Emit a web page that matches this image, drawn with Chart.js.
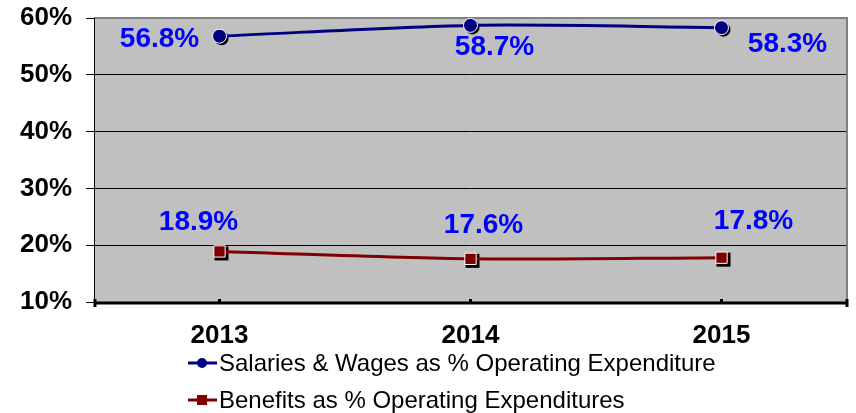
<!DOCTYPE html>
<html>
<head>
<meta charset="UTF-8">
<title>Salaries and Benefits</title>
<script src="https://cdn.jsdelivr.net/npm/chart.js"></script>
<style>
  html, body { margin: 0; padding: 0; background: #fff; }
  #wrap { width: 856px; height: 413px; }
</style>
</head>
<body>
<div id="wrap"><canvas id="chart" width="856" height="413"></canvas></div>
<script>
// data
const years = ['2013', '2014', '2015'];
const salaries = [56.8, 58.7, 58.3];
const benefits = [18.9, 17.6, 17.8];
const yTicks = [10, 20, 30, 40, 50, 60];
const seriesNames = ['Salaries & Wages as % Operating Expenditure', 'Benefits as % Operating Expenditures'];

const FONT = '"Liberation Sans", Arial, sans-serif';

// where each value label sits relative to its point
const labelOffsets = [
  [[-60, 3], [24, 22], [66, 17]],
  [[-21, -29], [13, -34], [32, -36]]
];

const plotBox = {
  id: 'plotBox',
  beforeDraw(chart) {
    const { ctx, chartArea: a } = chart;
    ctx.save();
    ctx.fillStyle = '#c0c0c0';
    ctx.fillRect(a.left, a.top, a.right - a.left, a.bottom - a.top);
    ctx.restore();
  },
  beforeDatasetsDraw(chart) {
    const { ctx, chartArea: a } = chart;
    ctx.save();
    // gray top / right frame
    ctx.strokeStyle = '#808080';
    ctx.lineWidth = 2;
    ctx.beginPath();
    ctx.moveTo(a.left, a.top);
    ctx.lineTo(a.right, a.top);
    ctx.lineTo(a.right, a.bottom);
    ctx.stroke();
    // left axis line
    ctx.strokeStyle = '#000';
    ctx.lineWidth = 1;
    ctx.beginPath();
    ctx.moveTo(a.left + 0.5, a.top);
    ctx.lineTo(a.left + 0.5, a.bottom);
    ctx.stroke();
    // thick x axis with ticks
    ctx.lineWidth = 3;
    ctx.beginPath();
    ctx.moveTo(a.left, a.bottom + 1);
    ctx.lineTo(a.right + 1, a.bottom + 1);
    ctx.stroke();
    const xs = chart.scales.x;
    const tx = [a.left + 1, a.right];
    years.forEach((y, i) => tx.push(xs.getPixelForValue(i)));
    tx.forEach((x, i) => {
      ctx.beginPath();
      ctx.moveTo(x, a.bottom + (i < 2 ? 5 : 1));
      ctx.lineTo(x, a.bottom - 3);
      ctx.stroke();
    });
    // point shadows
    ctx.fillStyle = '#000';
    chart.data.datasets.forEach((ds, di) => {
      chart.getDatasetMeta(di).data.forEach(pt => {
        if (di === 0) {
          ctx.beginPath();
          ctx.arc(pt.x + 2, pt.y + 2, 7, 0, Math.PI * 2);
          ctx.fill();
        } else {
          ctx.fillRect(pt.x - 7 + 2, pt.y - 7 + 2, 14, 14);
        }
      });
    });
    ctx.restore();
  },
  afterDraw(chart) {
    const { ctx } = chart;
    ctx.save();
    // value labels
    ctx.font = 'bold 28px ' + FONT;
    ctx.fillStyle = '#0000ff';
    ctx.textAlign = 'center';
    ctx.textBaseline = 'middle';
    chart.data.datasets.forEach((ds, di) => {
      chart.getDatasetMeta(di).data.forEach((pt, i) => {
        const [dx, dy] = labelOffsets[di][i];
        ctx.fillText(ds.data[i].toFixed(1) + '%', pt.x + dx, pt.y + dy);
      });
    });
    // legend
    const lx = 188, rows = [363, 400];
    ctx.font = '24px ' + FONT;
    ctx.textAlign = 'left';
    chart.data.datasets.forEach((ds, di) => {
      const y = rows[di];
      ctx.strokeStyle = ds.borderColor;
      ctx.lineWidth = 3;
      ctx.beginPath();
      ctx.moveTo(lx, y);
      ctx.lineTo(lx + 29, y);
      ctx.stroke();
      ctx.fillStyle = ds.borderColor;
      if (di === 0) {
        ctx.beginPath();
        ctx.arc(lx + 14, y, 5, 0, Math.PI * 2);
        ctx.fill();
      } else {
        ctx.fillRect(lx + 9, y - 5, 10, 10);
      }
      ctx.fillStyle = '#000';
      ctx.fillText(seriesNames[di], lx + 31, y + 1);
    });
    ctx.restore();
  }
};

new Chart(document.getElementById('chart').getContext('2d'), {
  type: 'line',
  data: {
    labels: years,
    datasets: [
      {
        label: seriesNames[0],
        data: salaries,
        borderColor: '#000080',
        backgroundColor: '#000080',
        borderWidth: 3,
        tension: 0.3,
        pointStyle: 'circle',
        pointRadius: 7,
        pointBorderColor: '#ffffff',
        pointBorderWidth: 1,
        pointBackgroundColor: '#000080'
      },
      {
        label: seriesNames[1],
        data: benefits,
        borderColor: '#800000',
        backgroundColor: '#800000',
        borderWidth: 3,
        tension: 0.3,
        pointStyle: 'rect',
        pointRadius: 8,
        pointBorderColor: '#ffffff',
        pointBorderWidth: 1,
        pointBackgroundColor: '#800000'
      }
    ]
  },
  options: {
    responsive: false,
    animation: false,
    layout: { padding: { left: 0, right: 7, top: 18, bottom: 0 } },
    plugins: { legend: { display: false }, tooltip: { enabled: false } },
    scales: {
      x: {
        offset: true,
        afterFit: s => { s.height = 111; s.paddingLeft = 0; s.paddingRight = 0; },
        grid: { display: false, drawTicks: false },
        border: { display: false },
        ticks: {
          padding: 18,
          color: '#000',
          font: { family: FONT, size: 26, weight: 'bold' }
        }
      },
      y: {
        min: yTicks[0],
        max: yTicks[yTicks.length - 1],
        afterFit: s => { s.width = 94; s.paddingTop = 0; s.paddingBottom = 0; },
        afterBuildTicks: s => { s.ticks = yTicks.map(v => ({ value: v })); },
        grid: { color: '#000', lineWidth: 1, tickLength: 8, drawTicks: true },
        border: { display: false },
        ticks: {
          padding: 14,
          color: '#000',
          font: { family: FONT, size: 26, weight: 'bold' },
          callback: v => v + '%'
        }
      }
    }
  },
  plugins: [plotBox]
});
</script>
</body>
</html>
